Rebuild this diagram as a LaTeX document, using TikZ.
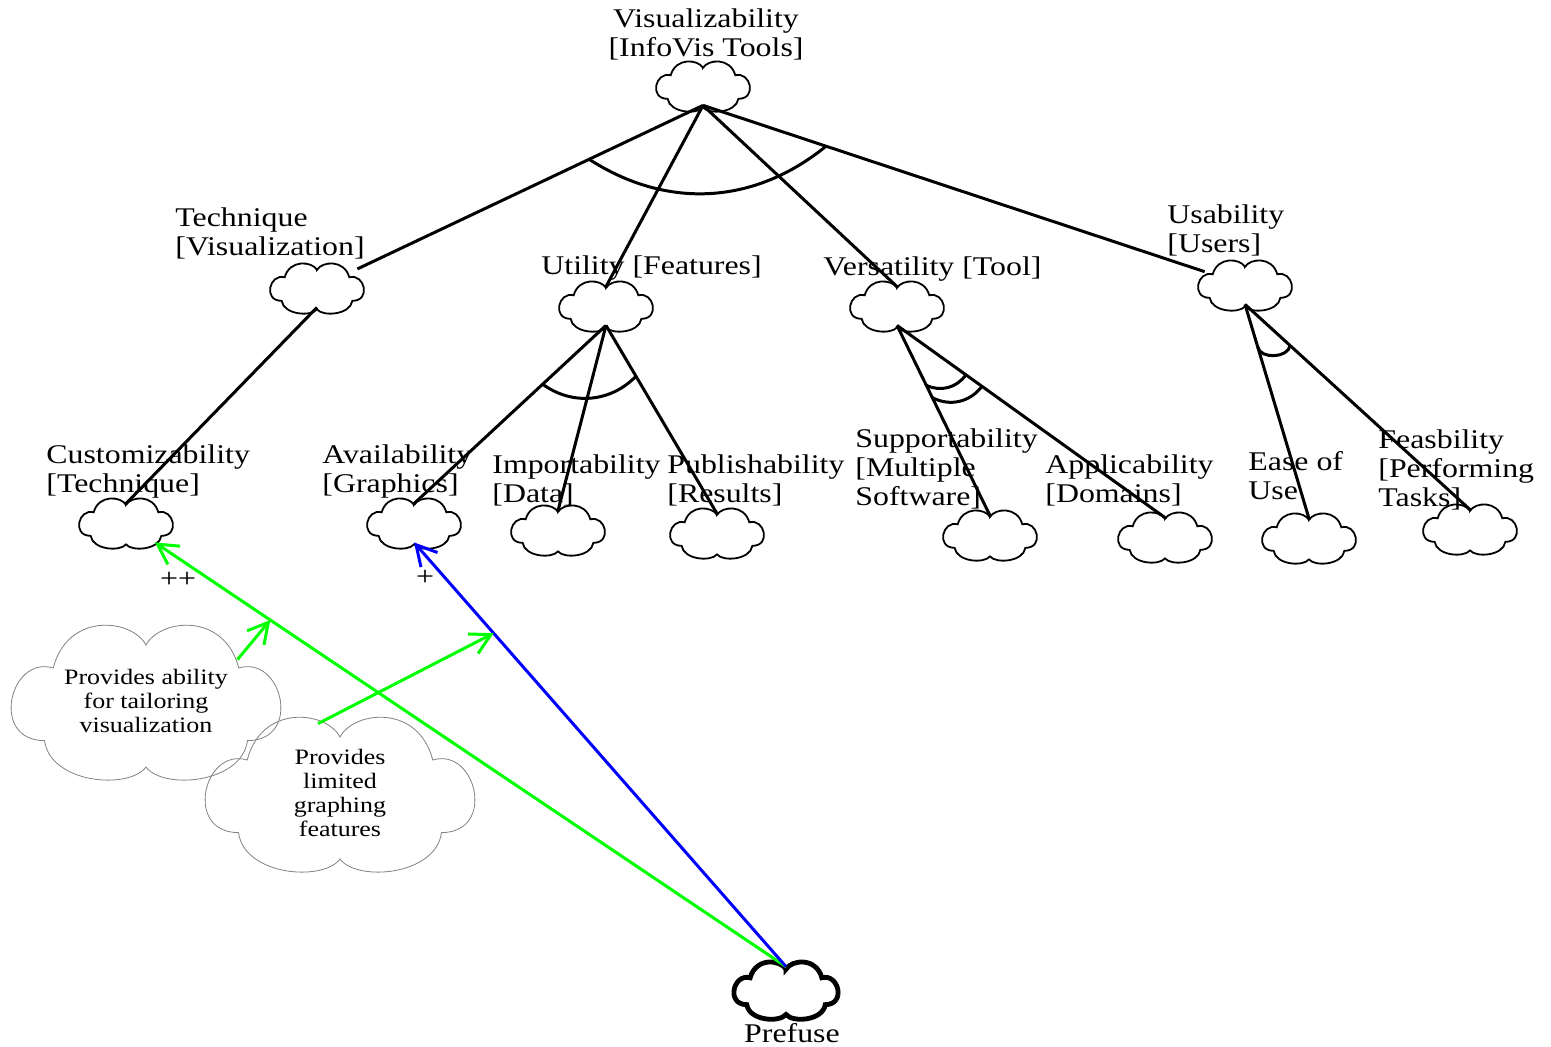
\documentclass[tikz,border=0pt]{standalone}
\usepackage{fontspec}
\setmainfont{Liberation Serif}[FakeStretch=1.18]
\usetikzlibrary{arrows.meta,calc}

\tikzset{pics/puff/.style={code={
  \draw (0,-17) .. controls (5,-25) and (27,-27) .. (32,-10)
        .. controls (47,-14) and (54,12) .. (35,12)
        .. controls (33,25) and (6,27) .. (0,20)
        .. controls (-6,27) and (-33,25) .. (-35,12)
        .. controls (-54,12) and (-47,-14) .. (-32,-10)
        .. controls (-27,-27) and (-5,-25) .. cycle;}}}

\begin{document}
\begin{tikzpicture}[x=0.5pt,y=-0.5pt,every path/.style={>={Straight Barb[length=10pt,width=11pt]}},
  goal/.style={minimum width=40pt,minimum height=19pt,inner sep=0pt,
    append after command={(\tikzlastnode.center) pic[line width=0.9pt,xscale=1.01,yscale=1.07]{puff}}},
  task/.style={minimum width=44pt,minimum height=23pt,inner sep=0pt,
    append after command={(\tikzlastnode.center) pic[line width=2.4pt,xscale=1.12,yscale=1.22]{puff}}},
  claim/.style={inner sep=0pt,align=center,font=\fontsize{11}{12}\selectfont,
    append after command={(\tikzlastnode.center) pic[gray,line width=0.4pt,xscale=2.9,yscale=3.3]{puff}}},
  lbl/.style={font=\fontsize{13.5}{14.5}\selectfont,align=left,anchor=base west,inner sep=0pt},
  link/.style={line width=1.5pt},
  help/.style={->,line width=1.5pt,green},
  hurt/.style={->,line width=1.5pt,blue}]
\useasboundingbox (0,0) rectangle (1551,1046);
% softgoals
\node[goal]        (v)   at (703,86)   {};
\node[goal]        (t)   at (317,288)  {};
\node[goal]        (u)   at (606,306)  {};
\node[goal]        (ver) at (897,306)  {};
\node[goal]        (us)  at (1245,285) {};
\node[goal]        (cu)  at (126,523)  {};
\node[goal]        (av)  at (414,523)  {};
\node[goal]        (im)  at (558,530)  {};
\node[goal]        (pu)  at (717,533)  {};
\node[goal]        (su)  at (990,535)  {};
\node[goal]        (ap)  at (1165,537) {};
\node[goal]        (ea)  at (1309,538) {};
\node[goal]        (fe)  at (1470,529) {};
\node[task]        (pr)  at (786,990)  {};
\node[claim,minimum width=91pt,minimum height=41pt] (pa) at (146,701) {Provides ability\\for tailoring\\visualization};
\node[claim,minimum width=60pt,minimum height=69pt] (pl) at (340,793) {Provides\\limited\\graphing\\features};
% names
\node[lbl,align=center,anchor=base] (vl) at (706,56) {Visualizability\\{[}InfoVis Tools]};
\node[lbl]         (tl)  at (175,255)  {Technique\\{[}Visualization]};
\node[lbl]         (ul)  at (541,274)  {Utility [Features]};
\node[lbl]         (verl) at (823,275) {Versatility [Tool]};
\node[lbl]         (usl) at (1167,252) {Usability\\{[}Users]};
\node[lbl]         (cul) at (46,492)   {Customizability\\{[}Technique]};
\node[lbl]         (avl) at (322,492)  {Availability\\{[}Graphics]};
\node[lbl]         (iml) at (492,502)  {Importability\\{[}Data]};
\node[lbl]         (pul) at (667,502)  {Publishability\\{[}Results]};
\node[lbl]         (sul) at (855,505)  {Supportability\\{[}Multiple\\Software]};
\node[lbl]         (apl) at (1045,502) {Applicability\\{[}Domains]};
\node[lbl]         (eal) at (1248,499) {Ease of\\Use};
\node[lbl]         (fel) at (1378,506) {Feasbility\\{[}Performing\\Tasks]};
\node[lbl,anchor=base] (prl) at (792,1042) {Prefuse};
% decompositions
\draw[link] (v.south) -- (t);
\draw[link] (v.south) -- (u.north);
\draw[link] (v.south) -- (ver.north);
\draw[link] (v.south) -- (us);
\draw[link] ($(v.south)!0.295!(t)$) to[bend right=36] ($(v.south)!0.227!(us)$);
\draw[link] (t.south) -- (cu.north);
\draw[link] (u.south) -- (av.north);
\draw[link] (u.south) -- (im.north);
\draw[link] (u.south) -- (pu.north);
\draw[link] ($(u.south)!0.33!(av.north)$) to[bend right=41] ($(u.south)!0.27!(pu.north)$);
\draw[link] (ver.south) -- (su.north);
\draw[link] (ver.south) -- (ap.north);
\draw[link] ($(ver.south)!0.315!(su.north)$) to[bend right=40] ($(ver.south)!0.257!(ap.north)$);
\draw[link] ($(ver.south)!0.38!(su.north)$) to[bend right=40] ($(ver.south)!0.317!(ap.north)$);
\draw[link] (us.south) -- (ea.north);
\draw[link] (us.south) -- (fe.north);
\draw[link] ($(us.south)!0.2!(ea.north)$) to[bend right=80] ($(us.south)!0.2!(fe.north)$);
% contributions
\draw[help] (pr.north) -- coordinate[pos=0.817] (m1) (cu);
\draw[hurt] (pr.north) -- coordinate[pos=0.786] (m2) (av.south);
\draw[help] (pa.north east) -- (m1);
\draw[help] ([xshift=-11pt]pl.north) -- (m2);
\node[lbl,anchor=center] (hp) at (178,580) {++};
\node[lbl,anchor=center] (hu) at (425,578) {+};
\end{tikzpicture}
\end{document}
